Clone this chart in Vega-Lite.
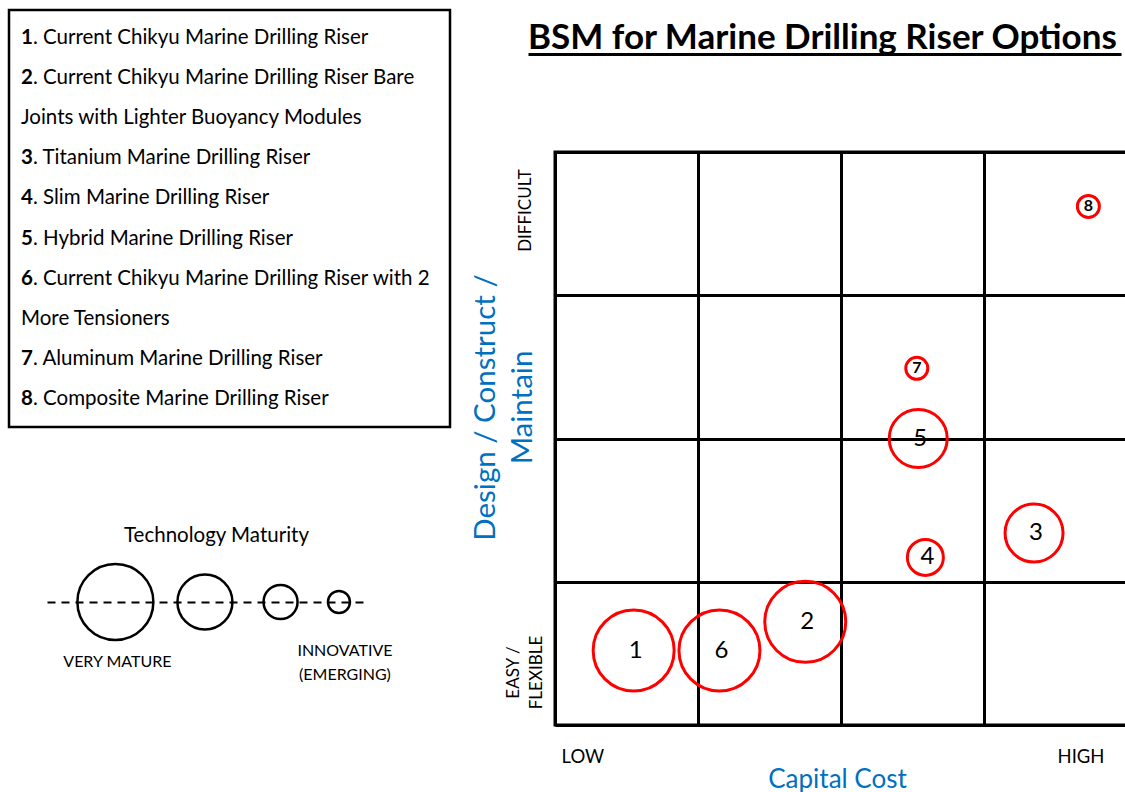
{
  "$schema": "https://vega.github.io/schema/vega-lite/v6.json",
  "background": "white",
  "padding": {"left": 7, "top": 8, "right": 0, "bottom": 0},
  "config": {
    "view": {"stroke": null},
    "font": "Lato",
    "text": {"font": "Lato", "color": "black"},
    "title": {"font": "Lato", "color": "black"},
    "axis": {"labelFont": "Lato", "titleFont": "Lato"}
  },
  "datasets": {
    "options": [
      {"id": "1", "name": "Current Chikyu Marine Drilling Riser", "cost": 0.55, "difficulty": 0.52, "maturity": 4},
      {"id": "2", "name": "Current Chikyu Marine Drilling Riser Bare Joints with Lighter Buoyancy Modules", "cost": 1.75, "difficulty": 0.72, "maturity": 4},
      {"id": "3", "name": "Titanium Marine Drilling Riser", "cost": 3.35, "difficulty": 1.34, "maturity": 3},
      {"id": "4", "name": "Slim Marine Drilling Riser", "cost": 2.59, "difficulty": 1.17, "maturity": 2},
      {"id": "5", "name": "Hybrid Marine Drilling Riser", "cost": 2.54, "difficulty": 2.0, "maturity": 3},
      {"id": "6", "name": "Current Chikyu Marine Drilling Riser with 2 More Tensioners", "cost": 1.15, "difficulty": 0.52, "maturity": 4},
      {"id": "7", "name": "Aluminum Marine Drilling Riser", "cost": 2.53, "difficulty": 2.49, "maturity": 1},
      {"id": "8", "name": "Composite Marine Drilling Riser", "cost": 3.73, "difficulty": 3.62, "maturity": 1}
    ],
    "listLines": [
      {"line": 1, "num": "1", "rest": ". Current Chikyu Marine Drilling Riser"},
      {"line": 2, "num": "2", "rest": ". Current Chikyu Marine Drilling Riser Bare"},
      {"line": 3, "num": "", "rest": "Joints with Lighter Buoyancy Modules"},
      {"line": 4, "num": "3", "rest": ". Titanium Marine Drilling Riser"},
      {"line": 5, "num": "4", "rest": ". Slim Marine Drilling Riser"},
      {"line": 6, "num": "5", "rest": ". Hybrid Marine Drilling Riser"},
      {"line": 7, "num": "6", "rest": ". Current Chikyu Marine Drilling Riser with 2"},
      {"line": 8, "num": "", "rest": "More Tensioners"},
      {"line": 9, "num": "7", "rest": ". Aluminum Marine Drilling Riser"},
      {"line": 10, "num": "8", "rest": ". Composite Marine Drilling Riser"}
    ],
    "maturityLevels": [
      {"maturity": 4, "label": "VERY MATURE"},
      {"maturity": 3, "label": ""},
      {"maturity": 2, "label": ""},
      {"maturity": 1, "label": ["INNOVATIVE", "(EMERGING)"]}
    ],
    "chartTitle": [
      {"title": "BSM for Marine Drilling Riser Options"}
    ]
  },
  "spacing": 16,
  "resolve": {"scale": {"x": "independent", "y": "independent", "size": "independent"}},
  "hconcat": [
    {
      "spacing": 96,
      "vconcat": [
        {
          "width": 441,
          "height": 417,
          "view": {"stroke": "black", "strokeWidth": 2.5},
          "data": {"name": "listLines"},
          "encoding": {
            "y": {"field": "line", "type": "ordinal", "scale": {"type": "point", "padding": 0.7}, "axis": null},
            "x": {"value": 12}
          },
          "layer": [
            {
              "transform": [{"filter": "datum.num != ''"}],
              "mark": {"type": "text", "align": "left", "baseline": "middle", "fontSize": 20.5, "fontWeight": "bold"},
              "encoding": {"text": {"field": "num"}}
            },
            {
              "transform": [{"filter": "datum.num != ''"}],
              "mark": {"type": "text", "align": "left", "baseline": "middle", "fontSize": 20.5, "dx": 12},
              "encoding": {"text": {"field": "rest"}}
            },
            {
              "transform": [{"filter": "datum.num == ''"}],
              "mark": {"type": "text", "align": "left", "baseline": "middle", "fontSize": 20.5},
              "encoding": {"text": {"field": "rest"}}
            }
          ]
        },
        {
          "width": 441,
          "height": 100,
          "title": {"text": "Technology Maturity", "fontSize": 20.5, "fontWeight": "normal", "anchor": "middle", "frame": "group", "dx": -13, "offset": 6},
          "data": {"name": "maturityLevels"},
          "encoding": {
            "x": {
              "field": "maturity",
              "type": "quantitative",
              "scale": {"type": "pow", "exponent": 1.5, "domain": [0.394, 4.685], "range": [354, 38], "nice": false, "zero": false},
              "axis": {"orient": "bottom", "offset": -50, "domain": true, "domainColor": "black", "domainWidth": 2, "domainDash": [8, 6], "labels": false, "ticks": false, "grid": false, "title": null}
            }
          },
          "layer": [
            {
              "mark": {"type": "point", "shape": "circle", "filled": false, "stroke": "black", "strokeWidth": 2.5, "opacity": 1},
              "encoding": {
                "size": {"field": "maturity", "type": "ordinal", "scale": {"type": "ordinal", "domain": [1, 2, 3, 4], "range": [484, 1156, 3025, 5776]}, "legend": null}
              }
            },
            {
              "transform": [{"filter": "datum.maturity == 4"}],
              "mark": {"type": "text", "baseline": "top", "dy": 52, "dx": 2, "fontSize": 16},
              "encoding": {"text": {"field": "label"}}
            },
            {
              "transform": [{"filter": "datum.maturity == 1"}],
              "mark": {"type": "text", "baseline": "top", "dy": 41, "dx": 6, "fontSize": 16, "lineHeight": 24},
              "encoding": {"text": {"field": "label"}}
            }
          ]
        }
      ]
    },
    {
      "spacing": 94,
      "vconcat": [
        {
          "width": 572,
          "height": 44,
          "data": {"name": "chartTitle"},
          "mark": {"type": "text", "align": "left", "baseline": "alphabetic", "fontSize": 35, "fontWeight": "bold", "dy": 17},
          "encoding": {
            "text": {"field": "title"},
            "x": {
              "datum": 0,
              "type": "quantitative",
              "scale": {"domain": [0, 1], "range": [-27, 566], "nice": false, "zero": false},
              "axis": {"orient": "bottom", "domain": true, "domainColor": "black", "domainWidth": 3, "labels": false, "ticks": false, "grid": false, "title": null, "minExtent": 0}
            }
          }
        },
        {
          "width": 572,
          "height": 573,
          "view": {"stroke": "black", "strokeWidth": 3},
          "data": {"name": "options"},
          "encoding": {
            "x": {
              "field": "cost",
              "type": "quantitative",
              "scale": {"domain": [0, 4], "nice": false, "zero": false},
              "axis": {
                "values": [0, 1, 2, 3, 4],
                "grid": true, "gridColor": "black", "gridWidth": 3, "gridOpacity": 1,
                "domain": false, "ticks": false, "tickSize": 0,
                "labelExpr": "datum.value == 0 ? 'LOW' : datum.value == 4 ? 'HIGH' : ''",
                "labelFontSize": 18.5, "labelColor": "black", "labelBaseline": "alphabetic", "labelPadding": 37,
                "labelFlush": false, "labelOverlap": false,
                "labelAlign": {"condition": {"test": "datum.value == 0", "value": "left"}, "value": "right"},
                "labelOffset": {"condition": {"test": "datum.value == 0", "value": 6}, "value": -23},
                "title": "Capital Cost", "titleColor": "#0070C0", "titleFontSize": 26, "titleFontWeight": "normal",
                "titleX": 282, "titleY": 62, "titleAlign": "center", "titleBaseline": "alphabetic"
              }
            },
            "y": {
              "field": "difficulty",
              "type": "quantitative",
              "scale": {"domain": [0, 4], "nice": false, "zero": false},
              "axis": {
                "values": [0, 1, 2, 3, 4],
                "grid": true, "gridColor": "black", "gridWidth": 3, "gridOpacity": 1,
                "domain": false, "ticks": false, "tickSize": 0,
                "labelExpr": "datum.value == 4 ? 'DIFFICULT' : datum.value == 0 ? ['EASY /', 'FLEXIBLE'] : ''",
                "labelAngle": 270, "labelAlign": "center", "labelBaseline": "middle",
                "labelPadding": {"condition": {"test": "datum.value == 0", "value": 42}, "value": 30},
                "labelFontSize": 17, "labelLineHeight": 23, "labelColor": "black",
                "labelFlush": false, "labelOverlap": false,
                "labelOffset": {"condition": {"test": "datum.value == 0", "value": -53}, "value": 58},
                "title": ["Design / Construct /", "Maintain"], "titleColor": "#0070C0", "titleFontSize": 29.5, "titleFontWeight": "normal",
                "titleAngle": 270, "titleAlign": "center", "titleBaseline": "alphabetic", "titleX": -61, "titleY": 255, "titleLineHeight": 37
              }
            }
          },
          "layer": [
            {
              "mark": {"type": "point", "shape": "circle", "filled": false, "stroke": "#FF0000", "strokeWidth": 3, "opacity": 1},
              "encoding": {
                "size": {"field": "maturity", "type": "ordinal", "scale": {"type": "ordinal", "domain": [1, 2, 3, 4], "range": [484, 1296, 3364, 6561]}, "legend": null}
              }
            },
            {
              "transform": [{"filter": "datum.maturity > 1"}],
              "mark": {"type": "text", "fontSize": 24, "baseline": "middle", "dx": 2},
              "encoding": {"text": {"field": "id"}}
            },
            {
              "transform": [{"filter": "datum.maturity == 1"}],
              "mark": {"type": "text", "fontSize": 16, "fontWeight": "bold", "baseline": "middle"},
              "encoding": {"text": {"field": "id"}}
            }
          ]
        }
      ]
    }
  ]
}
